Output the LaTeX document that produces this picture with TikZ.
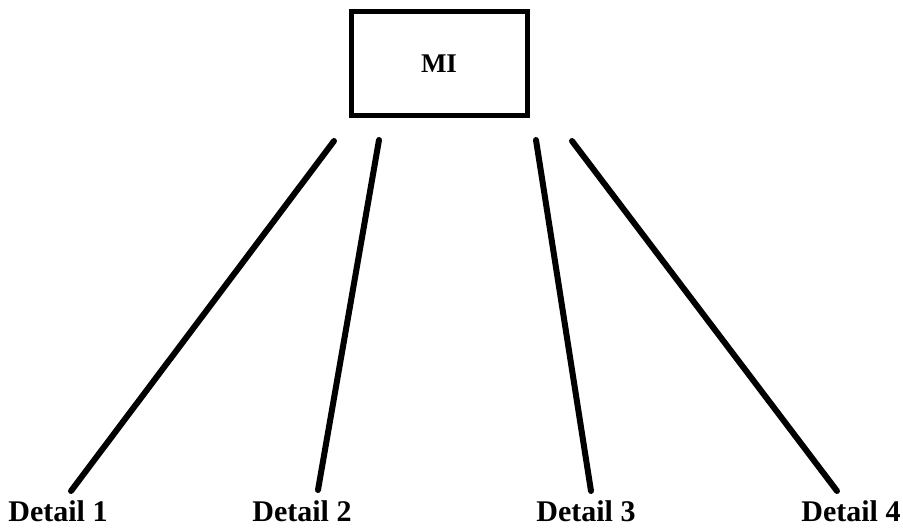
\documentclass[tikz,border=0pt]{standalone}
\usepackage{fontspec}
\setmainfont{Liberation Serif}
\usetikzlibrary{positioning}
\tikzset{
    mainBox/.style={
        ,   draw
        ,   line width=5pt
        ,   minimum width=176pt
        ,   minimum height=104pt
        ,   font={\fontsize{27pt}{30}\bfseries}
    },
    detailLabel/.style={
        ,   inner sep=0pt
        ,   font={\fontsize{30pt}{33}\bfseries}
    },
    branch/.style={
        ,   line width=6pt
        ,   line cap=round
    }
}
\begin{document}
\begin{tikzpicture}[x=1pt,y=-1pt]
		\useasboundingbox (0,0) rectangle (903,529);
		
		\node[mainBox] (mi) at (439,64) {MI};
		
		% top ends below the box, bottom ends above the labels
		\coordinate (t1) at (334,141);
		\coordinate (t2) at (379,140);
		\coordinate (t3) at (536,140);
		\coordinate (t4) at (572,141);
		\coordinate (b1) at (71,491);
		\coordinate (b2) at (318,490);
		\coordinate (b3) at (591,491);
		\coordinate (b4) at (837,491);
		
		\node[detailLabel] (d1) at (58,511) {Detail 1};
		\node[detailLabel] (d2) at (302,511) {Detail 2};
		\node[detailLabel] (d3) at (586,511) {Detail 3};
		\node[detailLabel] (d4) at (851,511) {Detail 4};
		
		\foreach \a in {1,...,4}{
			\draw[branch] (t\a) -- (b\a);
		}
\end{tikzpicture}
\end{document}
